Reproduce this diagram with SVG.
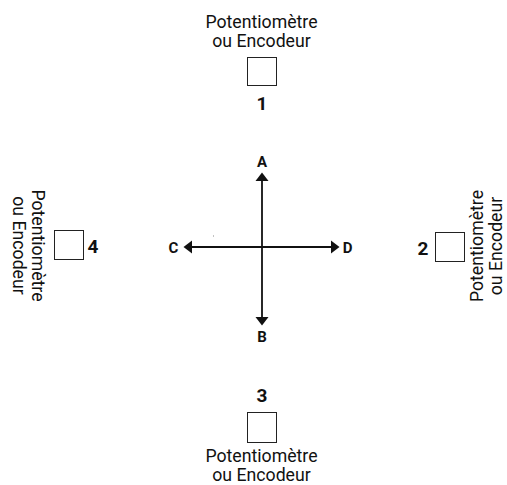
<svg xmlns="http://www.w3.org/2000/svg" width="507" height="485" viewBox="0 0 507 485">
<defs>
<style>
.lbl{font-family:Roboto,"Liberation Sans",sans-serif;font-size:17.7px;fill:#111;text-anchor:middle}
.num{font-family:Roboto,"Liberation Sans",sans-serif;font-size:19px;font-weight:bold;fill:#111;text-anchor:middle}
.ax{font-family:Roboto,"Liberation Sans",sans-serif;font-size:15px;font-weight:bold;fill:#111;text-anchor:middle}
.box{fill:#fff;stroke:#222;stroke-width:1}
.line{stroke:#111;stroke-width:1.8;fill:none}
.head{fill:#111}
</style>
</defs>
<rect width="507" height="485" fill="#fff"/>
<g id="connectors">
<line class="line" x1="262" y1="247" x2="262" y2="178"/>
<line class="line" x1="262" y1="247" x2="262" y2="320"/>
<line class="line" x1="262" y1="247" x2="189" y2="247"/>
<line class="line" x1="262" y1="247" x2="334" y2="247"/>
<path class="head" d="M262,172.5 L255.5,181 L268.5,181 Z"/>
<path class="head" d="M262,325.5 L255.5,317 L268.5,317 Z"/>
<path class="head" d="M183.5,247 L192,240.5 L192,253.5 Z"/>
<path class="head" d="M339.5,247 L331,240.5 L331,253.5 Z"/>
<rect x="213" y="235.5" width="1" height="1" fill="#888"/>
</g>
<g id="axis-labels">
<text class="ax" x="262" y="167">A</text>
<text class="ax" x="262" y="342">B</text>
<text class="ax" x="173.5" y="252.5">C</text>
<text class="ax" x="347.5" y="252.5">D</text>
</g>
<g id="node1">
<text class="lbl" x="261.5" y="28">Potentiomètre</text>
<text class="lbl" x="261.5" y="47">ou Encodeur</text>
<rect class="box" x="247.5" y="57.5" width="29" height="28"/>
<text class="num" x="262" y="110">1</text>
</g>
<g id="node2">
<text class="num" x="423" y="255">2</text>
<rect class="box" x="435.5" y="232.5" width="29" height="29"/>
<text class="lbl" transform="translate(483,246) rotate(-90)" x="0" y="0">Potentiomètre</text>
<text class="lbl" transform="translate(502,246) rotate(-90)" x="0" y="0">ou Encodeur</text>
</g>
<g id="node3">
<text class="num" x="262" y="402">3</text>
<rect class="box" x="247.5" y="412.5" width="29" height="30"/>
<text class="lbl" x="261.5" y="462">Potentiomètre</text>
<text class="lbl" x="261.5" y="481">ou Encodeur</text>
</g>
<g id="node4">
<rect class="box" x="54.5" y="230.5" width="29" height="29"/>
<text class="num" x="93" y="253">4</text>
<text class="lbl" transform="translate(32,245.5) rotate(90)" x="0" y="0">Potentiomètre</text>
<text class="lbl" transform="translate(13,245.5) rotate(90)" x="0" y="0">ou Encodeur</text>
</g>
</svg>
